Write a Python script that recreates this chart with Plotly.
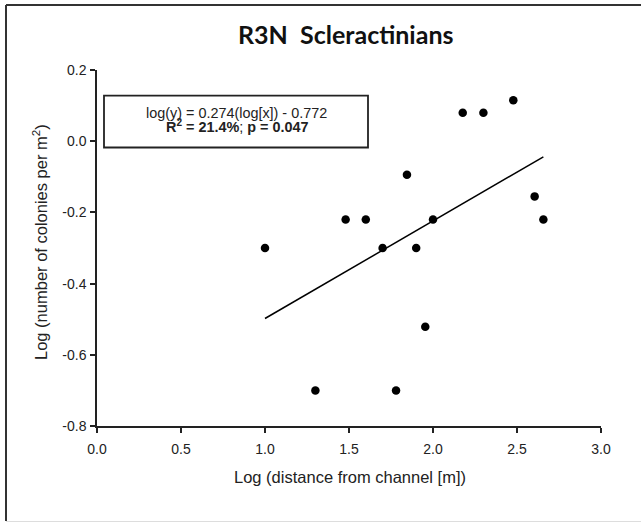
import plotly.graph_objects as go

# data
log_distance = [1.00, 1.30, 1.48, 1.60, 1.70, 1.78, 1.845, 1.90, 1.954, 2.00, 2.177, 2.30, 2.478, 2.605, 2.657]
log_density = [-0.30, -0.70, -0.22, -0.22, -0.30, -0.70, -0.094, -0.30, -0.521, -0.22, 0.08, 0.08, 0.115, -0.155, -0.22]
slope = 0.274
intercept = -0.772
x_ticks = [0.0, 0.5, 1.0, 1.5, 2.0, 2.5, 3.0]
y_ticks = [-0.8, -0.6, -0.4, -0.2, 0.0, 0.2]

W, H = 641, 523
L, R, T, B = 97, 40, 70, 97
pw, ph = W - L - R, H - T - B

def px2paper_x(px):
    return (px - L) / pw

def px2paper_y(py):
    return (H - B - py) / ph

xmin, xmax = min(log_distance), max(log_distance)
fit_x = [xmin, xmax]
fit_y = [slope * v + intercept for v in fit_x]

fig = go.Figure()
fig.add_trace(go.Scatter(x=fit_x, y=fit_y, mode="lines",
                         line=dict(color="black", width=1.5), showlegend=False, hoverinfo="skip"))
fig.add_trace(go.Scatter(x=log_distance, y=log_density, mode="markers",
                         marker=dict(color="black", size=8.5), showlegend=False))

FONT = "Liberation Sans, Arial, sans-serif"
axis_font = dict(family=FONT, size=14, color="#222")
fig.update_xaxes(range=[0, 3], tickvals=x_ticks, ticktext=[f"{v:.1f}" for v in x_ticks],
                 showgrid=False, zeroline=False, showline=True, linecolor="#222", linewidth=1.5,
                 ticks="outside", ticklen=5, tickwidth=1.5, tickcolor="#222", tickfont=axis_font,
                 ticklabelstandoff=4)
fig.update_yaxes(range=[-0.8, 0.2], tickvals=y_ticks, ticktext=[f"{v:.1f}" for v in y_ticks],
                 showgrid=False, zeroline=False, showline=True, linecolor="#222", linewidth=1.5,
                 ticks="outside", ticklen=5, tickwidth=1.5, tickcolor="#222", tickfont=axis_font,
                 ticklabelstandoff=1)

shapes = [
    # annotation box
    dict(type="rect", xref="x", yref="y", x0=(104 - L) / 168, x1=(368 - L) / 168,
         y0=(140.7 - 147) / 356.5, y1=(140.7 - 95) / 356.5, line=dict(color="#222", width=1.8)),
    # outer frame (top, left, bottom)
    dict(type="line", xref="paper", yref="paper", x0=px2paper_x(6), x1=px2paper_x(641),
         y0=px2paper_y(5), y1=px2paper_y(5), line=dict(color="#333", width=2)),
    dict(type="line", xref="paper", yref="paper", x0=px2paper_x(6), x1=px2paper_x(6),
         y0=px2paper_y(5), y1=px2paper_y(521), line=dict(color="#333", width=2)),
    dict(type="line", xref="paper", yref="paper", x0=px2paper_x(6), x1=px2paper_x(641),
         y0=px2paper_y(521.5), y1=px2paper_y(521.5), line=dict(color="#ddd", width=1)),
]

ann_font = dict(family=FONT, size=14.4, color="#222")
title_font = dict(family=FONT, size=16.5, color="#222")
annotations = [
    dict(text="<b>R3N\u00a0\u00a0Scleractinians</b>", xref="paper", yref="paper",
         x=px2paper_x(346), y=px2paper_y(34), xanchor="center", yanchor="middle", showarrow=False,
         font=dict(family="Lato, Open Sans, sans-serif", size=25, color="#111")),
    dict(text="log(y) = 0.274(log[x]) - 0.772", xref="paper", yref="paper",
         x=px2paper_x(236.5), y=px2paper_y(113), xanchor="center", yanchor="middle", showarrow=False,
         font=ann_font),
    dict(text="<b>R<sup>2</sup> = 21.4%</b>; <b>p = 0.047</b>", xref="paper", yref="paper",
         x=px2paper_x(236.5), y=px2paper_y(125.5), xanchor="center", yanchor="middle", showarrow=False,
         font=ann_font),
    dict(text="Log (distance from channel [m])", xref="paper", yref="paper",
         x=px2paper_x(350), y=px2paper_y(477), xanchor="center", yanchor="middle", showarrow=False,
         font=title_font),
    dict(text="Log (number of colonies per m<sup>2</sup>)", xref="paper", yref="paper",
         x=px2paper_x(40), y=px2paper_y(242), xanchor="center", yanchor="middle", showarrow=False,
         textangle=-90, font=title_font),
]

fig.update_layout(width=W, height=H, margin=dict(l=L, r=R, t=T, b=B, autoexpand=False),
                  plot_bgcolor="white", paper_bgcolor="white",
                  shapes=shapes, annotations=annotations)

fig.write_html("out.html", config={"displayModeBar": False},
               post_script="document.body.style.margin='0';")
